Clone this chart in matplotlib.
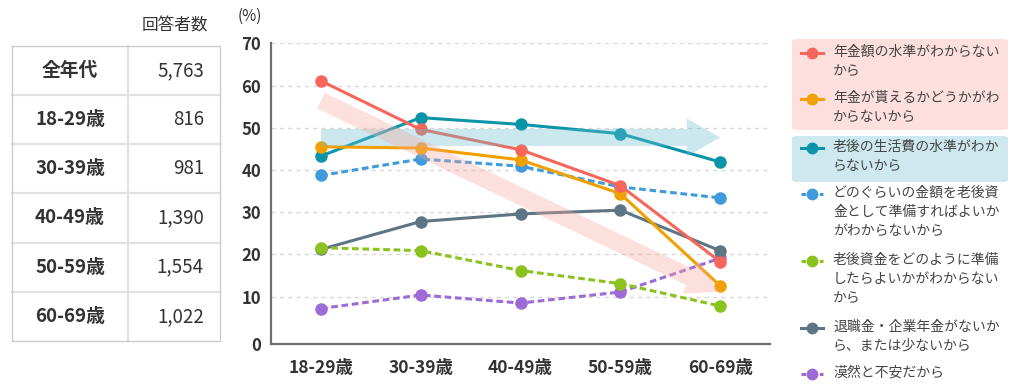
import matplotlib.pyplot as plt
from matplotlib.lines import Line2D
from matplotlib.patches import FancyBboxPatch

plt.rcParams['font.family'] = ['Noto Sans CJK JP', 'DejaVu Sans']

ages = ['18-29歳', '30-39歳', '40-49歳', '50-59歳', '60-69歳']
pension_level = [61.1, 49.6, 44.8, 36.3, 18.3]
pension_receive = [45.5, 45.2, 42.4, 34.4, 12.6]
living_cost = [43.3, 52.4, 50.8, 48.6, 41.9]
how_much = [38.7, 42.6, 40.9, 36.0, 33.4]
how_prepare = [21.6, 20.9, 16.2, 13.1, 7.8]
retirement_pay = [21.2, 27.8, 29.6, 30.5, 20.9]
vague_anxiety = [7.2, 10.4, 8.5, 11.1, 19.1]

series_labels = [
    '年金額の水準がわからない\nから',
    '年金が貰えるかどうかがわ\nからないから',
    '老後の生活費の水準がわか\nらないから',
    'どのぐらいの金額を老後資\n金として準備すればよいか\nがわからないから',
    '老後資金をどのように準備\nしたらよいかがわからない\nから',
    '退職金・企業年金がないか\nら、または少ないから',
    '漠然と不安だから',
]
series_values = [pension_level, pension_receive, living_cost, how_much,
                 how_prepare, retirement_pay, vague_anxiety]
colors = ['#f7665a', '#f0a000', '#0a94a8', '#3f9bdc', '#8cc21e', '#5e7683', '#9d6bd6']
dashed = [False, False, False, True, True, False, True]

table_rows = ['全年代', '18-29歳', '30-39歳', '40-49歳', '50-59歳', '60-69歳']
table_counts = ['5,763', '816', '981', '1,390', '1,554', '1,022']

W, H = 1011, 388
fig = plt.figure(figsize=(W / 100, H / 100), dpi=100)


def fp(x, y):
    return x / W, 1 - y / H


# main chart
ax = fig.add_axes([271 / W, 1 - 344 / H, (770 - 271) / W, (344 - 43.3) / H])
ax.set_xlim(-0.5, 4.5)
ax.set_ylim(-1.2, 70)

x = range(len(ages))
for i, (vals, c, d) in enumerate(zip(series_values, colors, dashed)):
    ax.plot(x, vals, color=c, lw=2.2, ls=(0, (2.2, 1.2)) if d else '-',
            marker='o', markersize=8, zorder=20 - i)

# translucent trend arrows drawn over the lines
ax.annotate('', xy=(4.0, 47.7), xytext=(0.0, 47.7),
            arrowprops=dict(arrowstyle='simple,head_length=2.4,head_width=2.75,tail_width=1.22',
                            mutation_scale=10, color='#6bbfd1', alpha=0.35, lw=0,
                            shrinkA=0, shrinkB=0), zorder=30)
ax.annotate('', xy=(4.0, 11.2), xytext=(0.0, 56.4),
            arrowprops=dict(arrowstyle='simple,head_length=2.4,head_width=2.6,tail_width=1.25',
                            mutation_scale=10, color='#f7a8a0', alpha=0.35, lw=0,
                            shrinkA=0, shrinkB=0), zorder=30)

for v in range(10, 71, 10):
    ax.axhline(v, color='#d9d9d9', lw=1, ls=(0, (3, 3)), zorder=0)

ax.set_xticks(list(x))
ax.set_xticklabels(ages, fontsize=12.5, fontweight='bold', color='#333333')
ax.set_yticks([-1.2] + list(range(10, 71, 10)))
ax.set_yticklabels(['0'] + [str(v) for v in range(10, 71, 10)],
                   fontsize=12, fontweight='bold', color='#333333')
ax.tick_params(length=0, pad=7)
ax.tick_params(axis='x', pad=11)
for s in ['top', 'right']:
    ax.spines[s].set_visible(False)
for s in ['left', 'bottom']:
    ax.spines[s].set_color('#6e6e6e')
    ax.spines[s].set_linewidth(1.6)

fig.text(*fp(250, 16), '(%)', fontsize=11, color='#333333', ha='center', va='center')

# table
tl, tr, tmid, ttop, tbot = 12, 220, 128, 45.7, 341
rh = (tbot - ttop) / len(table_rows)
fig.text(*fp(175, 26), '回答者数', fontsize=12, color='#333333', ha='center', va='center')
for k in range(1, len(table_rows)):
    yy = 1 - (ttop + k * rh) / H
    fig.add_artist(Line2D([tl / W, tr / W], [yy, yy], color='#e2e2e2', lw=1.6))
fig.add_artist(Line2D([tmid / W, tmid / W], [1 - ttop / H, 1 - tbot / H], color='#e2e2e2', lw=1.6))
fig.add_artist(Line2D([tl / W, tr / W, tr / W, tl / W, tl / W],
                      [1 - ttop / H, 1 - ttop / H, 1 - tbot / H, 1 - tbot / H, 1 - ttop / H],
                      color='#cccccc', lw=1))
for k, (name, cnt) in enumerate(zip(table_rows, table_counts)):
    yc = ttop + (k + 0.5) * rh
    fig.text(*fp(70, yc), name, fontsize=13.5, fontweight='bold', color='#333333',
             ha='center', va='center')
    fig.text(*fp(204, yc), cnt, fontsize=13.5, color='#333333', ha='right', va='center')

# legend
fig.add_artist(FancyBboxPatch(fp(792, 130), (1008 - 792) / W, (130 - 39) / H,
                              boxstyle='round,pad=0,rounding_size=0.006',
                              transform=fig.transFigure, color='#fde0de', lw=0))
fig.add_artist(FancyBboxPatch(fp(792, 182), (1008 - 792) / W, (182 - 136) / H,
                              boxstyle='round,pad=0,rounding_size=0.006',
                              transform=fig.transFigure, color='#cde9ef', lw=0))
leg_y = [53, 99, 148, 194, 261, 328, 374]
for lab, c, d, yy in zip(series_labels, colors, dashed, leg_y):
    fy = 1 - yy / H
    fig.add_artist(Line2D([801 / W, 823 / W], [fy, fy], color=c, lw=2.2,
                          ls=(0, (1.5, 1.5)) if d else '-'))
    fig.add_artist(Line2D([812 / W], [fy], color=c, marker='o', markersize=7.5, lw=0))
    fig.text(833 / W, fy + 8 / H, lab, fontsize=10, color='#444444', ha='left', va='top',
             linespacing=1.45)

fig.savefig('out.png', dpi=100)
